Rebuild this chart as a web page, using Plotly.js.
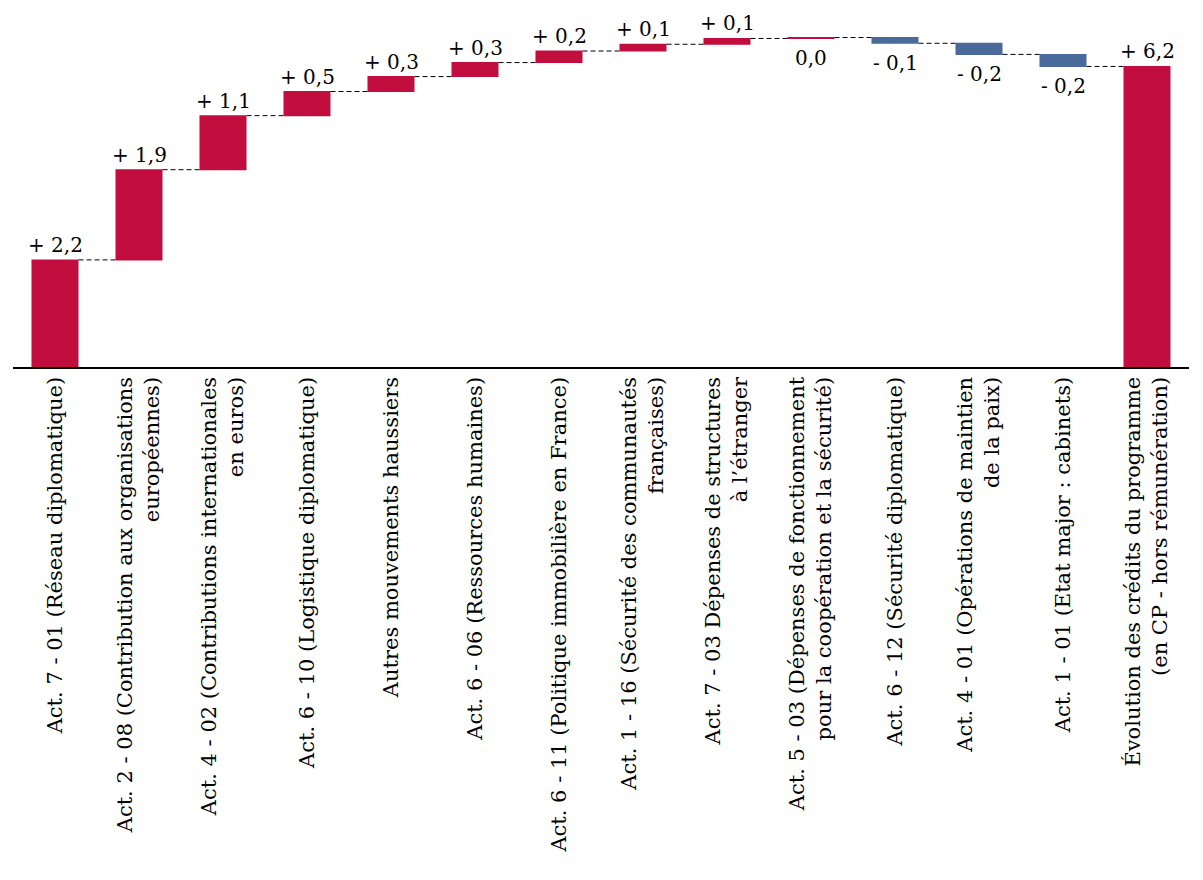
<!DOCTYPE html>
<html><head><meta charset="utf-8">
<script src="https://cdn.plot.ly/plotly-3.0.1.min.js"></script>
<style>body{margin:0;background:#fff}#chart{width:1203px;height:880px}</style>
</head><body><div id="chart"></div>
<script>
const categories = [
  "Act. 7 - 01 (Réseau diplomatique)",
  "Act. 2 - 08 (Contribution aux organisations<br>européennes)",
  "Act. 4 - 02 (Contributions internationales<br>en euros)",
  "Act. 6 - 10 (Logistique diplomatique)",
  "Autres mouvements haussiers",
  "Act. 6 - 06 (Ressources humaines)",
  "Act. 6 - 11 (Politique immobilière en France)",
  "Act. 1 - 16 (Sécurité des communautés<br>françaises)",
  "Act. 7 - 03 Dépenses de structures<br>à l’étranger",
  "Act. 5 - 03 (Dépenses de fonctionnement<br>pour la coopération et la sécurité)",
  "Act. 6 - 12 (Sécurité diplomatique)",
  "Act. 4 - 01 (Opérations de maintien<br>de la paix)",
  "Act. 1 - 01 (Etat major : cabinets)",
  "Évolution des crédits du programme<br>(en CP - hors rémunération)"
];
const values = [2.22, 1.87, 1.12, 0.50, 0.31, 0.29, 0.24, 0.14, 0.12, 0.02, -0.12, -0.23, -0.25, 0];
const measures = ["relative","relative","relative","relative","relative","relative","relative","relative","relative","relative","relative","relative","relative","total"];
const valueLabels = ["+ 2,2","+ 1,9","+ 1,1","+ 0,5","+ 0,3","+ 0,3","+ 0,2","+ 0,1","+ 0,1","0,0","- 0,1","- 0,2","- 0,2","+ 6,2"];
const labelBelow = [false,false,false,false,false,false,false,false,false,true,true,true,true,false];

const RED = "#C20E3E", BLUE = "#4A6A9B";
const FONT = "DejaVu Serif, serif";

let cum = 0; const tops = [], bottoms = [];
values.forEach((v, i) => {
  if (measures[i] === "total") { tops.push(cum); bottoms.push(cum); return; }
  const start = cum; cum += v;
  tops.push(Math.max(start, cum)); bottoms.push(Math.min(start, cum));
});
const annotations = categories.map((c, i) => ({
  x: c, y: labelBelow[i] ? bottoms[i] : tops[i],
  yanchor: labelBelow[i] ? "top" : "bottom",
  yshift: labelBelow[i] ? -6 : 1,
  text: valueLabels[i], showarrow: false,
  font: {family: FONT, size: 20, color: "#000"}
}));

Plotly.newPlot("chart", [{
  type: "waterfall",
  x: categories, y: values, measure: measures,
  textposition: "none",
  increasing: {marker: {color: RED}},
  decreasing: {marker: {color: BLUE}},
  totals: {marker: {color: RED}},
  connector: {mode: "between", line: {color: "#000", width: 1, dash: "5px,3px"}},
  hoverinfo: "x+y"
}], {
  width: 1203, height: 880,
  margin: {l: 13, r: 14, t: 10, b: 513},
  paper_bgcolor: "#fff", plot_bgcolor: "#fff",
  showlegend: false,
  waterfallgap: 0.44,
  font: {family: FONT, size: 20, color: "#000"},
  xaxis: {tickangle: -90, showline: true, linecolor: "#000", linewidth: 1.5, ticks: "", showgrid: false, tickfont: {family: FONT, size: 21, color: "#000"}, automargin: false},
  yaxis: {range: [0, 7.4], visible: false, showgrid: false, zeroline: false},
  annotations: annotations
}, {displayModeBar: false, staticPlot: true});
</script></body></html>
